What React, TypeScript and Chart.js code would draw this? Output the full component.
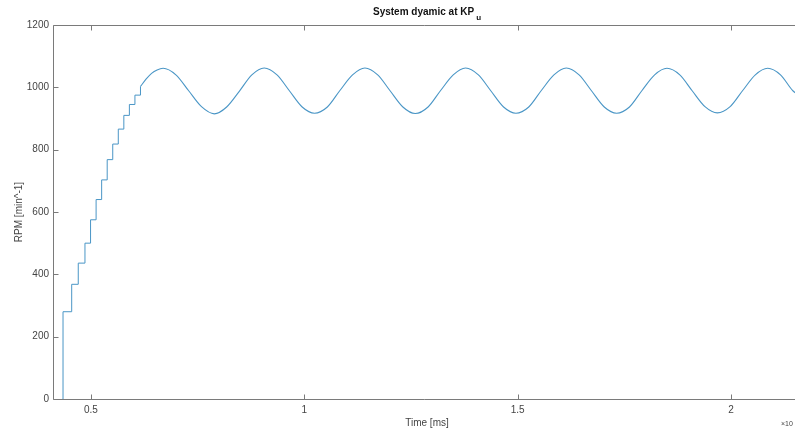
import React, { useEffect, useRef } from "react";
import { Chart, registerables } from "chart.js";

Chart.register(...registerables);

// Rising (sampled, zero-order-hold) part of the response
const riseTimes = [0.434, 0.4345, 0.4548, 0.4702, 0.4859, 0.499, 0.512, 0.525, 0.538, 0.551, 0.564, 0.577, 0.59, 0.603, 0.616];
const riseRpm = [0, 280, 368, 436, 500, 575, 640, 703, 768, 818, 866, 910, 945, 975, 1003];

// Oscillating part of the response
const waveTimes = [
  0.616, 0.629, 0.642, 0.655, 0.669,
  0.699, 0.729, 0.759, 0.789,
  0.818, 0.848, 0.877, 0.906,
  0.936, 0.965, 0.995, 1.024,
  1.054, 1.083, 1.113, 1.142,
  1.172, 1.201, 1.231, 1.26,
  1.29, 1.319, 1.349, 1.378,
  1.408, 1.437, 1.467, 1.496,
  1.526, 1.555, 1.585, 1.614,
  1.644, 1.673, 1.703, 1.732,
  1.762, 1.791, 1.821, 1.85,
  1.88, 1.909, 1.939, 1.968,
  1.998, 2.027, 2.057, 2.086,
  2.116, 2.145, 2.16,
];
const waveRpm = [
  1003, 1026, 1045, 1056, 1061,
  1040, 989, 938, 915,
  937, 988, 1040, 1062,
  1040, 989, 937, 917,
  937, 989, 1040, 1062,
  1040, 989, 937, 916,
  937, 989, 1040, 1062,
  1040, 989, 937, 917,
  937, 989, 1040, 1062,
  1040, 989, 937, 917,
  937, 989, 1040, 1061,
  1040, 989, 938, 918,
  938, 989, 1040, 1061,
  1040, 989, 975,
];

const xTickValues = [0.5, 1, 1.5, 2];
const yTickValues = [0, 200, 400, 600, 800, 1000, 1200];
const X_MIN = 0.411;
const X_MAX = 2.15;

const titleText = "System dyamic at KP";
const titleSub = "u";
const xTitle = "Time [ms]";
const yTitle = "RPM [min^-1]";
const expText = "×10";

const LINE_COLOR = "#4a96c6";
const AXIS_COLOR = "#7a7a7a";
const TEXT_COLOR = "#444444";
const FONT = "'Liberation Sans', Arial, Helvetica, sans-serif";

const framePlugin = {
  id: "frame",
  beforeDatasetsDraw(chart: any) {
    const { ctx, chartArea: a, scales } = chart;
    const L = Math.round(a.left) + 0.5;
    const B = Math.round(a.bottom) + 0.5;
    const T = Math.round(a.top) + 0.5;
    const R = a.right;
    ctx.save();
    ctx.strokeStyle = AXIS_COLOR;
    ctx.lineWidth = 1;
    ctx.beginPath();
    ctx.moveTo(L, T);
    ctx.lineTo(R, T);
    ctx.moveTo(L, T);
    ctx.lineTo(L, B);
    ctx.lineTo(R, B);
    // inward ticks
    for (const v of xTickValues) {
      const x = Math.round(scales.x.getPixelForValue(v)) + 0.5;
      ctx.moveTo(x, B);
      ctx.lineTo(x, B - 5);
      ctx.moveTo(x, T);
      ctx.lineTo(x, T + 5);
    }
    for (const v of yTickValues) {
      const y = Math.round(scales.y.getPixelForValue(v)) + 0.5;
      ctx.moveTo(L, y);
      ctx.lineTo(L + 5, y);
    }
    ctx.stroke();
    ctx.restore();
  },
  afterDraw(chart: any) {
    const { ctx, chartArea: a } = chart;
    ctx.save();
    // title
    ctx.fillStyle = "#111111";
    ctx.font = `bold 10px ${FONT}`;
    ctx.textBaseline = "middle";
    ctx.textAlign = "left";
    const w1 = ctx.measureText(titleText).width;
    ctx.font = `bold 8px ${FONT}`;
    const w2 = ctx.measureText(titleSub).width;
    const cx = (a.left + a.right) / 2 + 3;
    const start = cx - (w1 + 2 + w2) / 2;
    ctx.font = `bold 10px ${FONT}`;
    ctx.fillText(titleText, start, 12.5);
    ctx.font = `bold 8px ${FONT}`;
    ctx.fillText(titleSub, start + w1 + 2, 17.5);

    // x title
    ctx.fillStyle = TEXT_COLOR;
    ctx.font = `10px ${FONT}`;
    ctx.textAlign = "center";
    ctx.fillText(xTitle, cx, 423);

    // exponent
    ctx.font = `7px ${FONT}`;
    ctx.textAlign = "left";
    ctx.fillText(expText, 781, 424);

    // y title
    ctx.font = `10px ${FONT}`;
    ctx.translate(19, (a.top + a.bottom) / 2);
    ctx.rotate(-Math.PI / 2);
    ctx.textAlign = "center";
    ctx.fillText(yTitle, 0, 0);
    ctx.restore();
  },
};

export default function App() {
  const ref = useRef<HTMLCanvasElement | null>(null);

  useEffect(() => {
    if (!ref.current) return;
    const rise = riseTimes.map((t, i) => ({ x: t, y: riseRpm[i] }));
    const wave = waveTimes.map((t, i) => ({ x: t, y: waveRpm[i] }));
    const chart = new Chart(ref.current, {
      type: "line",
      data: {
        datasets: [
          {
            data: rise,
            borderColor: LINE_COLOR,
            borderWidth: 1,
            pointRadius: 0,
            stepped: "before",
            fill: false,
          },
          {
            data: wave,
            borderColor: LINE_COLOR,
            borderWidth: 1.1,
            pointRadius: 0,
            cubicInterpolationMode: "monotone",
            fill: false,
          },
        ],
      },
      options: {
        animation: false,
        responsive: false,
        devicePixelRatio: 1,
        layout: { padding: { top: 25, left: 0, right: 0, bottom: 0 } },
        plugins: {
          legend: { display: false },
          tooltip: { enabled: false },
          title: { display: false },
        },
        scales: {
          x: {
            type: "linear",
            min: X_MIN,
            max: X_MAX,
            grid: { display: false, drawTicks: false },
            border: { display: false },
            afterBuildTicks: (s: any) => {
              s.ticks = xTickValues.map((v) => ({ value: v }));
            },
            afterFit: (s: any) => {
              s.height = 31;
            },
            ticks: {
              padding: 5,
              maxRotation: 0,
              autoSkip: false,
              color: TEXT_COLOR,
              font: { family: FONT, size: 10 },
              callback: (v: any) => String(v),
            },
          },
          y: {
            min: 0,
            max: 1200,
            grid: { display: false, drawTicks: false },
            border: { display: false },
            afterBuildTicks: (s: any) => {
              s.ticks = yTickValues.map((v) => ({ value: v }));
            },
            afterFit: (s: any) => {
              s.width = 53;
            },
            ticks: {
              padding: 4,
              autoSkip: false,
              color: TEXT_COLOR,
              font: { family: FONT, size: 10 },
              callback: (v: any) => String(v),
            },
          },
        },
      },
      plugins: [framePlugin],
    });
    return () => chart.destroy();
  }, []);

  return (
    <div style={{ position: "absolute", left: 0, top: 0, width: 795, height: 430, background: "#ffffff" }}>
      <canvas ref={ref} width={795} height={430} style={{ display: "block" }} />
    </div>
  );
}
